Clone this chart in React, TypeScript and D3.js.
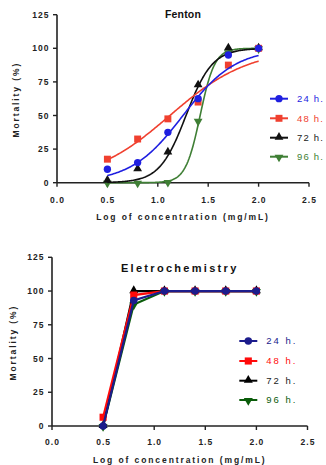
import React from "react";
import * as d3 from "d3";

const concentrations = [0.5, 0.8, 1.1, 1.4, 1.7, 2.0];
const seriesNames = ["24 h.", "48 h.", "72 h.", "96 h."];
const xTicks = [0.0, 0.5, 1.0, 1.5, 2.0, 2.5];
const yTicks = [0, 25, 50, 75, 100, 125];

// Fenton observed mortality (%)
const fenton24 = [10, 15, 37.5, 62.5, 95, 100];
const fenton48 = [17.5, 32.5, 47.5, 60, 87.5, 100];
const fenton72 = [1.5, 10, 22.5, 72.5, 100, 100];
const fenton96 = [0, 0, 0.5, 46, 97, 100];
// Fitted sigmoid parameters (logEC50, Hill slope)
const fentonLogEC50 = [1.25, 1.12, 1.28, 1.42];
const fentonHill = [1.67, 1.11, 3.33, 6.0];

// Electrochemistry observed mortality (%)
const elec24 = [0, 93, 100, 100, 100, 100];
const elec48 = [6.5, 97, 100, 100, 100, 100];
const elec72 = [0, 100, 100, 100, 100, 100];
const elec96 = [0, 90, 100, 100, 100, 100];

const fentonColors = ["#1f1fe0", "#f0402f", "#111111", "#3f7f35"];
const elecColors = ["#1c1c8c", "#ff0a0a", "#000000", "#0a5c0a"];
const symbols = [d3.symbolCircle, d3.symbolSquare, d3.symbolTriangle, d3.symbolTriangle];

type PanelProps = {
  title: string;
  titleSize: number;
  titleSpacing: number;
  titleY: number;
  x0: number; x1: number; y0: number; y1: number;
  data: number[][];
  colors: string[];
  fit?: { ec50: number[]; hill: number[] };
  legendX: number; legendY: number[]; legendSize: number; legendSpacing: number;
  markerScale: number;
  lineWidth: number;
  xTickY: number; xLabelY: number; yLabelX: number; yTickRight: number;
};

function Marker({ i, x, y, color, scale }: { i: number; x: number; y: number; color: string; scale: number }) {
  const sizes = [40, 46, 32, 32];
  const p = d3.symbol().type(symbols[i]).size(sizes[i] * scale)() as string;
  const rot = i === 3 ? 180 : 0;
  const dy = i === 2 ? -0.5 : i === 3 ? 0.5 : 0;
  return <path d={p} fill={color} transform={`translate(${x},${y + dy}) rotate(${rot})`} />;
}

function Panel(props: PanelProps) {
  const { x0, x1, y0, y1, data, colors, fit } = props;
  const xs = d3.scaleLinear().domain([0, 2.5]).range([x0, x1]);
  const ys = d3.scaleLinear().domain([0, 125]).range([y0, y1]);
  const axisColor = "#222";
  const tickFont = "Liberation Sans, Arial, sans-serif";
  const order = [3, 2, 1, 0];
  const line = d3.line<[number, number]>().x((d) => xs(d[0])).y((d) => ys(d[1]));
  const curvePts = d3.range(0.5, 2.0001, 0.01);
  return (
    <g>
      <text x={(x0 + x1) / 2} y={props.titleY} textAnchor="middle" fontFamily={tickFont} fontWeight="bold" fontSize={props.titleSize} fill="#111" style={{ letterSpacing: props.titleSpacing + "px" }}>{props.title}</text>
      {/* axes */}
      <line x1={x0} x2={x1} y1={y0} y2={y0} stroke={axisColor} strokeWidth={1.6} />
      <line x1={x0} x2={x0} y1={y0} y2={y1} stroke={axisColor} strokeWidth={1.6} />
      {yTicks.map((t) => (
        <g key={"y" + t}>
          <line x1={x0 - 4} x2={x0} y1={ys(t)} y2={ys(t)} stroke={axisColor} strokeWidth={1.4} />
          <text x={props.yTickRight} y={ys(t) + 3} textAnchor="end" fontFamily={tickFont} fontWeight="bold" fontSize={8.5} fill="#222" style={{ letterSpacing: "1px" }}>{t}</text>
        </g>
      ))}
      {xTicks.map((t) => (
        <g key={"x" + t}>
          <line x1={xs(t)} x2={xs(t)} y1={y0} y2={y0 + 4} stroke={axisColor} strokeWidth={1.4} />
          <text x={xs(t) + 0.5} y={props.xTickY} textAnchor="middle" fontFamily={tickFont} fontWeight="bold" fontSize={8.5} fill="#222" style={{ letterSpacing: "1px" }}>{t.toFixed(1)}</text>
        </g>
      ))}
      <text x={(x0 + x1) / 2} y={props.xLabelY} textAnchor="middle" fontFamily={tickFont} fontWeight="bold" fontSize={8.5} fill="#222" style={{ letterSpacing: "1.9px" }}>Log of concentration (mg/mL)</text>
      <text transform={`translate(${props.yLabelX},${(y0 + y1) / 2 + 1}) rotate(-90)`} textAnchor="middle" fontFamily={tickFont} fontWeight="bold" fontSize={8.5} fill="#222" style={{ letterSpacing: "1.9px" }}>Mortality (%)</text>
      {/* series */}
      {order.map((i) => {
        const pts: [number, number][] = concentrations.map((c, k) => [c, data[i][k]]);
        let path: string;
        if (fit) {
          const cp: [number, number][] = curvePts.map((x) => [x, 100 / (1 + Math.pow(10, (fit.ec50[i] - x) * fit.hill[i]))]);
          path = line(cp) as string;
        } else {
          path = line(pts) as string;
        }
        return (
          <g key={"s" + i}>
            <path d={path} fill="none" stroke={colors[i]} strokeWidth={props.lineWidth} />
            {pts.map((p, k) => (
              <Marker key={k} i={i} x={xs(p[0])} y={ys(p[1])} color={colors[i]} scale={props.markerScale} />
            ))}
          </g>
        );
      })}
      {/* legend */}
      {seriesNames.map((n, i) => (
        <g key={"l" + i}>
          <line x1={props.legendX - 9} x2={props.legendX + 9} y1={props.legendY[i]} y2={props.legendY[i]} stroke={colors[i]} strokeWidth={2} />
          <Marker i={i} x={props.legendX} y={props.legendY[i]} color={colors[i]} scale={props.markerScale} />
          <text x={props.legendX + 18} y={props.legendY[i] + 3.3} fontFamily={tickFont} fontSize={props.legendSize} fill={colors[i] === "#111111" || colors[i] === "#000000" ? "#222" : colors[i]} style={{ letterSpacing: props.legendSpacing + "px" }}>{n}</text>
        </g>
      ))}
    </g>
  );
}

export default function App() {
  return (
    <svg width={326} height={465} style={{ position: "absolute", left: 0, top: 0, background: "#fff" }}>
      <rect width={326} height={465} fill="#fff" />
      <Panel
        title="Fenton" titleSize={10.5} titleSpacing={0.2} titleY={17.5}
        x0={57} x1={309} y0={182.7} y1={14.7}
        data={[fenton24, fenton48, fenton72, fenton96]}
        colors={fentonColors}
        fit={{ ec50: fentonLogEC50, hill: fentonHill }}
        legendX={279} legendY={[98.7, 118.3, 137.7, 156.7]} legendSize={9.5} legendSpacing={1.2}
        markerScale={1.05} lineWidth={1.6}
        xTickY={202.5} xLabelY={220} yLabelX={19} yTickRight={49.5}
      />
      <Panel
        title="Eletrochemistry" titleSize={11} titleSpacing={2.3} titleY={272}
        x0={52} x1={307.5} y0={426} y1={257.3}
        data={[elec24, elec48, elec72, elec96]}
        colors={elecColors}
        legendX={248.3} legendY={[341, 361, 380.7, 400]} legendSize={9.5} legendSpacing={2}
        markerScale={1.1} lineWidth={2.2}
        xTickY={445} xLabelY={463} yLabelX={16} yTickRight={44.5}
      />
    </svg>
  );
}
